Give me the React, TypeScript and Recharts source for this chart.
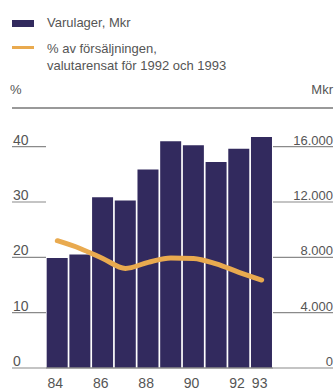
import { ComposedChart, Bar, Line, XAxis, YAxis, ReferenceLine } from "recharts";

const years = ["84", "85", "86", "87", "88", "89", "90", "91", "92", "93"];
const inventoryMkr = [7950, 8200, 12350, 12100, 14350, 16400, 16100, 14900, 15850, 16700];
const pctOfSales = [23.0, 21.6, 19.8, 18.0, 19.1, 19.9, 19.8, 18.8, 17.3, 15.9];
const shownYears = ["84", "86", "88", "90", "92", "93"];
const pctTicks = [0, 10, 20, 30, 40];
const mkrTicks = [0, 4000, 8000, 12000, 16000];

const BAR = "#322a5e";
const LINE = "#e9aa4f";
const TEXT = "#555";
const RULE = "#8a8a8a";
const FONT = "'Liberation Sans', Arial, sans-serif";

const data = years.map((year, i) => ({ year, mkr: inventoryMkr[i], pct: pctOfSales[i] }));

function LeftTick({ y, payload }: any) {
  return (
    <g>
      <line x1={12} x2={46} y1={y} y2={y} stroke={RULE} strokeWidth={1.2} />
      <text x={13} y={y - 2} fill={TEXT} fontSize={14} fontFamily={FONT}>
        {payload.value}
      </text>
    </g>
  );
}

function RightTick({ y, payload }: any) {
  const label = payload.value === 0 ? "0" : payload.value.toLocaleString("de-DE");
  return (
    <g>
      <line x1={273} x2={333} y1={y} y2={y} stroke={RULE} strokeWidth={1.2} />
      <text x={333} y={y - 2} fill={TEXT} fontSize={13} fontFamily={FONT} textAnchor="end">
        {label}
      </text>
    </g>
  );
}

function YearTick({ x, y, payload }: any) {
  if (!shownYears.includes(payload.value)) return null;
  return (
    <text x={x - 2} y={y + 12} fill={TEXT} fontSize={14} fontFamily={FONT} textAnchor="middle">
      {payload.value}
    </text>
  );
}

export default function App() {
  return (
    <div style={{ position: "absolute", left: 0, top: 0, width: 336, height: 390, background: "#fff", fontFamily: FONT, color: TEXT }}>
      <div style={{ position: "absolute", left: 12, top: 20, width: 22, height: 7, background: BAR }} />
      <div style={{ position: "absolute", left: 47, top: 15, fontSize: 13 }}>Varulager, Mkr</div>
      <div style={{ position: "absolute", left: 12, top: 46, width: 22, height: 3, background: LINE }} />
      <div style={{ position: "absolute", left: 47, top: 40, fontSize: 13, lineHeight: "17px" }}>
        % av försäljningen,
        <br />
        valutarensat för 1992 och 1993
      </div>
      <div style={{ position: "absolute", left: 10, top: 82, fontSize: 13 }}>%</div>
      <div style={{ position: "absolute", right: 3, top: 82, fontSize: 13 }}>Mkr</div>
      <div style={{ position: "absolute", left: 12, top: 107, width: 321, height: 2, background: "#999" }} />
      <ComposedChart
        width={336}
        height={390}
        data={data}
        margin={{ top: 119, right: 3, left: 12, bottom: 0 }}
        barCategoryGap="3%"
      >
        <XAxis dataKey="year" interval={0} axisLine={false} tickLine={false} height={22} tick={<YearTick />} />
        <YAxis
          yAxisId="left"
          orientation="left"
          width={34}
          domain={[0, 45]}
          ticks={pctTicks}
          axisLine={false}
          tickLine={false}
          tick={<LeftTick />}
        />
        <YAxis
          yAxisId="right"
          orientation="right"
          width={60}
          domain={[0, 18000]}
          ticks={mkrTicks}
          axisLine={false}
          tickLine={false}
          tick={<RightTick />}
        />
        <ReferenceLine yAxisId="left" y={0} stroke={RULE} strokeWidth={1.5} />
        <Bar yAxisId="right" dataKey="mkr" fill={BAR} isAnimationActive={false} />
        <Line
          yAxisId="left"
          dataKey="pct"
          type="monotone"
          stroke={LINE}
          strokeWidth={5}
          dot={false}
          strokeLinecap="round"
          isAnimationActive={false}
        />
      </ComposedChart>
    </div>
  );
}
